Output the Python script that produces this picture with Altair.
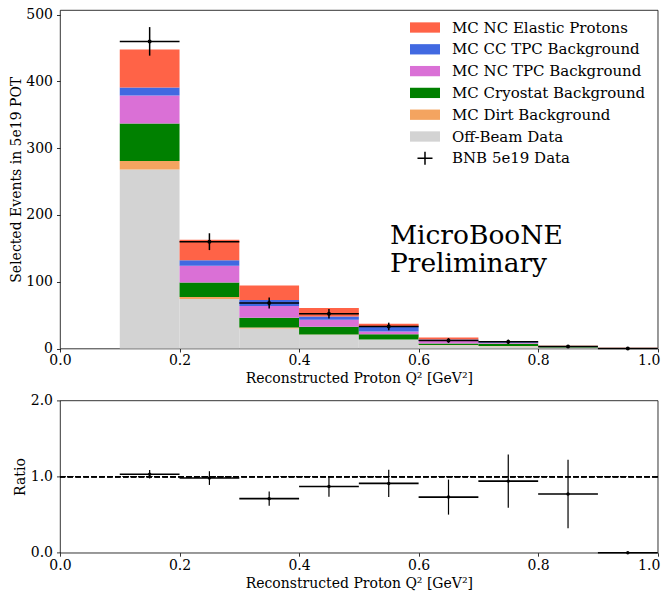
import altair as alt
import pandas as pd

# ---------------- data ----------------
bin_lo = [0.1, 0.2, 0.3, 0.4, 0.5, 0.6, 0.7, 0.8, 0.9]
bin_hi = [0.2, 0.3, 0.4, 0.5, 0.6, 0.7, 0.8, 0.9, 1.0]
bin_center = [0.15, 0.25, 0.35, 0.45, 0.55, 0.65, 0.75, 0.85, 0.95]

series_names = [
    "MC NC Elastic Protons",
    "MC CC TPC Background",
    "MC NC TPC Background",
    "MC Cryostat Background",
    "MC Dirt Background",
    "Off-Beam Data",
    "BNB 5e19 Data",
]
series_colors = ["#FF6347", "#4169E1", "#DA70D6", "#008000", "#F4A460", "#D3D3D3", "#000000"]

off_beam = [268, 74, 30, 20.5, 13.3, 5.0, 3.5, 1.5, 0.0]
mc_dirt = [13, 3, 1.5, 0.5, 0.3, 0.1, 0.1, 0.0, 0.0]
mc_cryo = [56, 22, 14.5, 11.5, 7.6, 2.4, 3.5, 1.0, 0.3]
mc_nc_tpc = [42, 25, 17.5, 10.5, 4.4, 3.9, 1.5, 0.5, 0.2]
mc_cc_tpc = [12, 8, 9, 5, 7.4, 2.0, 1.5, 0.5, 0.2]
mc_nc_elastic = [57, 31, 22, 12.7, 4.0, 3.0, 0.9, 0.5, 0.3]

data_counts = [460, 160, 68, 52, 33, 12, 10, 3, 0]
data_err = [21.4, 12.6, 8.2, 7.2, 5.7, 3.5, 3.2, 1.7, 0.0]

ratio_vals = [1.03, 0.98, 0.71, 0.87, 0.91, 0.73, 0.94, 0.77, 0.0]
ratio_err = [0.055, 0.09, 0.095, 0.135, 0.18, 0.23, 0.35, 0.45, 0.0]

label_lines = ["MicroBooNE", "Preliminary"]
label_pos = {"x": 0.552, "y": 157.2}

FONT = "DejaVu Serif"

# ---------------- tables ----------------
stack_parts = [
    ("Off-Beam Data", off_beam),
    ("MC Dirt Background", mc_dirt),
    ("MC Cryostat Background", mc_cryo),
    ("MC NC TPC Background", mc_nc_tpc),
    ("MC CC TPC Background", mc_cc_tpc),
    ("MC NC Elastic Protons", mc_nc_elastic),
]
rows = []
for idx, (name, vals) in enumerate(stack_parts):
    for lo, hi, v in zip(bin_lo, bin_hi, vals):
        rows.append({"series": name, "idx": idx, "lo": lo, "hi": hi, "value": v})
stack_df = pd.DataFrame(rows)

data_df = pd.DataFrame({
    "lo": bin_lo, "hi": bin_hi, "center": bin_center,
    "count": data_counts, "err": data_err,
    "series": ["BNB 5e19 Data"] * len(bin_lo),
})
ratio_df = pd.DataFrame({
    "lo": bin_lo, "hi": bin_hi, "center": bin_center,
    "ratio": ratio_vals, "err": ratio_err,
})

rect_path = "M-1.5,-0.515H1.5V0.515H-1.5Z"
plus_path = "M-0.75,-0.075H0.75V0.075H-0.75Z M-0.075,-0.65H0.075V0.65H-0.075Z"
shape_range = [rect_path] * 6 + [plus_path]

color_scale = alt.Scale(domain=series_names, range=series_colors)
shape_scale = alt.Scale(domain=series_names, range=shape_range)

legend_def = alt.Legend(
    title=None, orient="none", legendX=355, legendY=7.5,
    symbolSize=400, symbolStrokeWidth=0, labelOffset=17,
    labelFont=FONT, labelFontSize=15, labelColor="black",
    rowPadding=3.8, padding=0, labelLimit=400,
)

xvals = [0, 0.2, 0.4, 0.6, 0.8, 1.0]
# keep the right-most tick label inside the page
last_label_shift = {"condition": {"test": "datum.value >= 1", "value": -9}, "value": 0}

x_top = alt.X("lo:Q", scale=alt.Scale(domain=[0, 1], nice=False),
              axis=alt.Axis(values=xvals, format=".1f", labelOffset=last_label_shift,
                            title="Reconstructed Proton Q² [GeV²]"))

bars = alt.Chart(stack_df).transform_stack(
    stack="value", groupby=["lo"], as_=["y0", "y1"], sort=[alt.SortField("idx")]
).mark_bar(strokeWidth=0).encode(
    x=x_top,
    x2="hi:Q",
    y=alt.Y("y0:Q", scale=alt.Scale(domain=[0, 507], nice=False),
            axis=alt.Axis(values=[0, 100, 200, 300, 400, 500],
                          title="Selected Events in 5e19 POT")),
    y2="y1:Q",
    color=alt.Color("series:N", scale=color_scale, legend=legend_def),
)

data_h = alt.Chart(data_df).mark_rule(color="black", strokeWidth=1.5).encode(
    x="lo:Q", x2="hi:Q", y="count:Q"
)
data_v = alt.Chart(data_df).transform_calculate(
    lo_e="datum.count - datum.err", hi_e="datum.count + datum.err"
).mark_rule(color="black", strokeWidth=1.5).encode(
    x="center:Q", y="lo_e:Q", y2="hi_e:Q"
)
data_shape = alt.Chart(data_df).mark_point(filled=True, size=16, opacity=1).encode(
    x="center:Q", y="count:Q",
    color=alt.Color("series:N", scale=color_scale, legend=legend_def),
    shape=alt.Shape("series:N", scale=shape_scale, legend=legend_def),
)
data_dot = alt.Chart(data_df).mark_circle(color="black", size=16, opacity=1).encode(
    x="center:Q", y="count:Q"
)
label = alt.Chart(pd.DataFrame([label_pos])).mark_text(
    text=label_lines, font=FONT, fontSize=26.5, align="left",
    baseline="alphabetic", lineHeight=28.5, color="black"
).encode(x="x:Q", y="y:Q")

top = alt.layer(bars, data_h, data_v, data_shape, data_dot, label).properties(
    width=597.7, height=338.5
)

x_bot = alt.X("lo:Q", scale=alt.Scale(domain=[0, 1], nice=False),
              axis=alt.Axis(values=xvals, format=".1f", labelOffset=last_label_shift,
                            title="Reconstructed Proton Q² [GeV²]"))
ratio_h = alt.Chart(ratio_df).mark_rule(color="black", strokeWidth=1.6).encode(
    x=x_bot, x2="hi:Q",
    y=alt.Y("ratio:Q", scale=alt.Scale(domain=[0, 2], nice=False),
            axis=alt.Axis(values=[0, 0.5, 1.0, 1.5, 2.0], format=".1f", title="Ratio")),
)
ratio_v = alt.Chart(ratio_df).transform_calculate(
    lo_e="datum.ratio - datum.err", hi_e="datum.ratio + datum.err"
).mark_rule(color="black", strokeWidth=1.2).encode(
    x="center:Q", y="lo_e:Q", y2="hi_e:Q"
)
ratio_dot = alt.Chart(ratio_df).mark_circle(color="black", size=12, opacity=1).encode(
    x="center:Q", y="ratio:Q"
)
unity = alt.Chart(ratio_df).mark_rule(color="black", strokeWidth=1.2, strokeDash=[5.5, 2.4]).encode(
    y=alt.datum(1)
)
bottom = alt.layer(unity, ratio_h, ratio_v, ratio_dot).properties(width=597.7, height=152.3)

chart = alt.vconcat(top, bottom, spacing=51.4, bounds="flush").resolve_scale(
    color="independent", shape="independent"
).properties(
    padding={"left": 0, "top": -1, "right": 0, "bottom": 0}
).configure_axis(
    labelFont=FONT, titleFont=FONT, labelFontSize=14, titleFontSize=14,
    titleFontWeight="normal", labelColor="black", titleColor="black",
    tickColor="black", tickSize=3.5, tickWidth=0.8, grid=False, domain=False,
    labelPadding=2, labelFlush=False, labelOverlap=False,
).configure_axisY(titlePadding=2.4, labelPadding=4).configure_axisX(titlePadding=4).configure_view(
    stroke="black", strokeWidth=0.8
)

chart.save("out.html", embed_options={"renderer": "svg", "actions": False})
